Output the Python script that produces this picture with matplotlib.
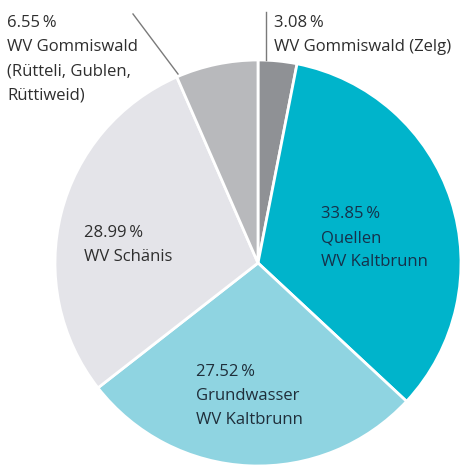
import matplotlib.pyplot as plt

# Anteile der Wasserversorgung (im Uhrzeigersinn ab 12 Uhr)
anteile = [3.08, 33.85, 27.52, 28.99, 6.55]
namen = ['WV Gommiswald (Zelg)', 'Quellen\nWV Kaltbrunn', 'Grundwasser\nWV Kaltbrunn',
         'WV Schänis', 'WV Gommiswald\n(Rütteli, Gublen,\nRüttiweid)']
farben = ['#8f9195', '#00b4cb', '#8fd4e1', '#e4e4e9', '#b8b9bc']

W, H = 463, 470
fig = plt.figure(figsize=(W / 100, H / 100), dpi=100)
ax = fig.add_axes([0, 0, 1, 1])

ax.pie(anteile, colors=farben, startangle=90, counterclock=False,
       center=(258, H - 263), radius=203,
       wedgeprops=dict(edgecolor='white', linewidth=2))
ax.set_xlim(0, W)
ax.set_ylim(0, H)
ax.axis('off')

def etikett(x, y, wert, name, farbe='#2e2e2e'):
    txt = f'{wert:.2f}\u2009%\n{name}'
    ax.text(x, H - y, txt, ha='left', va='top', fontsize=12, color=farbe,
            family=['Open Sans', 'DejaVu Sans'], linespacing=1.68)

etikett(7, 15, anteile[4], namen[4])
etikett(274, 15, anteile[0], namen[0])
etikett(321, 206, anteile[1], namen[1], '#16314a')
etikett(84, 225, anteile[3], namen[3])
etikett(196, 364, anteile[2], namen[2], '#1f2e3a')

# Hinweislinien fuer die kleinen Segmente
ax.plot([133, 178], [H - 14, H - 74], color='#7a7a7a', lw=1)
ax.plot([266, 266], [H - 12, H - 60], color='#7a7a7a', lw=1)

fig.savefig('out.png', dpi=100)
